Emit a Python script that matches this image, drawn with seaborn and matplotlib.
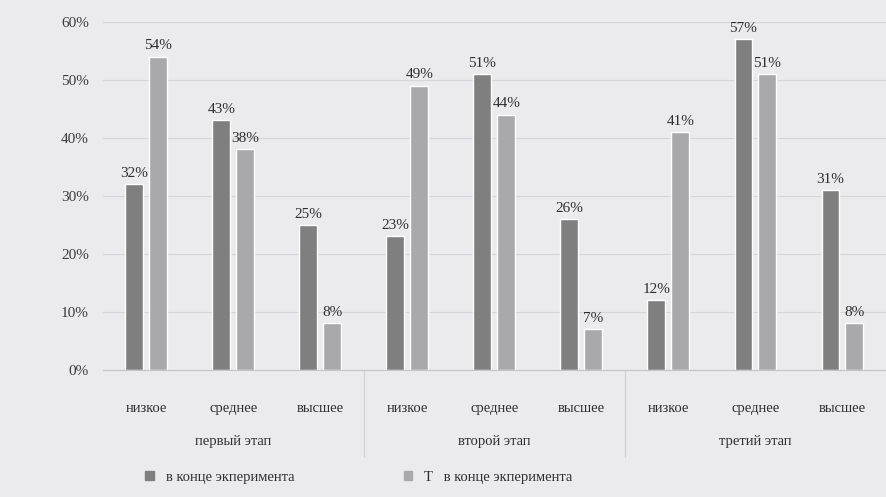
import matplotlib
matplotlib.use('Agg')
import matplotlib.pyplot as plt
import seaborn as sns
import pandas as pd
from matplotlib.patches import Patch
from matplotlib.ticker import PercentFormatter

stages = ['первый этап', 'второй этап', 'третий этап']
levels = ['низкое', 'среднее', 'высшее']
series = ['в конце экперимента', 'Т   в конце экперимента']
vals_k = [32, 43, 25, 23, 51, 26, 12, 57, 31]
vals_t = [54, 38, 8, 49, 44, 7, 41, 51, 8]

cats = [f'{s}|{l}' for s in stages for l in levels]
df = pd.DataFrame({
    'cat': cats * 2,
    'val': [v / 100 for v in vals_k + vals_t],
    'series': [series[0]] * len(cats) + [series[1]] * len(cats),
})

bg = '#ebebee'
dark = '#7f7f80'
light = '#a9a9ab'
txt = '#2e2e2e'
fnt = 'Liberation Serif'

sns.set_style('white')
plt.rcParams['font.family'] = [fnt, 'DejaVu Serif']

fig = plt.figure(figsize=(8.86, 4.97), dpi=100, facecolor=bg)
ax = fig.add_axes([0.116, 0.256, 0.884, 0.70])
ax.set_facecolor(bg)

sns.barplot(data=df, x='cat', y='val', hue='series', order=cats, hue_order=series,
            palette=[dark, light], saturation=1, width=0.55, gap=0.25,
            errorbar=None, legend=False, ax=ax)

for cont in ax.containers:
    ax.bar_label(cont, labels=[f'{b.get_height() * 100:.0f}%' for b in cont],
                 padding=3, fontsize=11, color=txt)

ax.set_ylim(0, 0.6)
ax.set_xlim(-0.5, len(cats) - 0.5)
ax.set_yticks([i / 10 for i in range(7)])
ax.yaxis.set_major_formatter(PercentFormatter(1.0, decimals=0))
ax.grid(axis='y', color='#d6d6da', lw=0.8)
ax.set_axisbelow(True)
for sp in ['top', 'right', 'left']:
    ax.spines[sp].set_visible(False)
ax.spines['bottom'].set_color('#c4c4c8')
ax.tick_params(axis='y', length=0, pad=10, labelsize=11, labelcolor='#3a3a3a')
ax.tick_params(axis='x', length=0, pad=23, labelsize=10.5, labelcolor=txt)
ax.set_xticks(range(len(cats)))
ax.set_xticklabels([c.split('|')[1] for c in cats])
ax.set_xlabel('')
ax.set_ylabel('')

# second level of the category axis
tr = ax.get_xaxis_transform()
for i, s in enumerate(stages):
    mid = i * len(levels) + (len(levels) - 1) / 2
    ax.text(mid, -0.205, s, transform=tr, ha='center', va='center',
            fontsize=10.5, color=txt)
for i in range(1, len(stages)):
    xb = i * len(levels) - 0.5
    ax.plot([xb, xb], [0, -0.25], transform=tr, clip_on=False,
            color='#d2d2d6', lw=0.9)

handles = [Patch(color=dark), Patch(color=light)]
fig.legend(handles, series, loc='center', bbox_to_anchor=(0.405, 0.04), ncol=2,
           frameon=False, fontsize=10.5, handlelength=0.6, handleheight=0.6,
           columnspacing=7.5, labelcolor=txt)

fig.savefig('out.png', dpi=100, facecolor=bg)
